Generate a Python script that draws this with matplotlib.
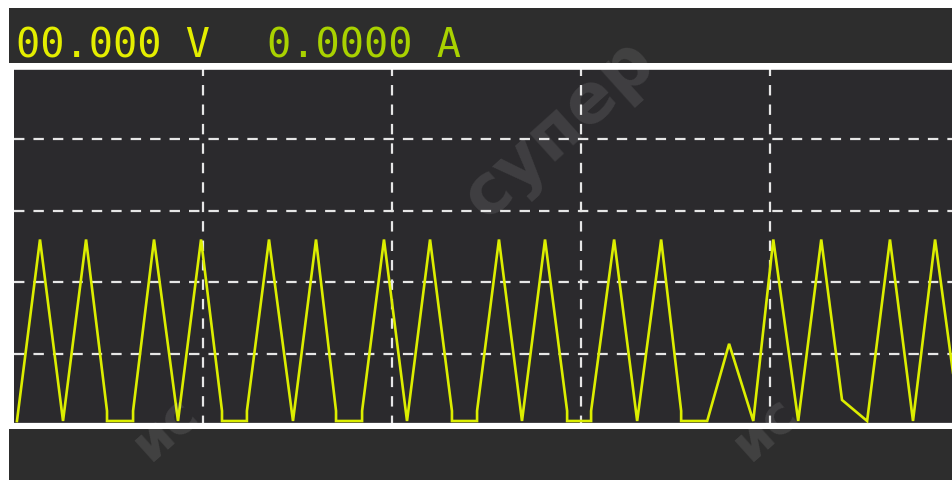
import matplotlib
matplotlib.use("Agg")
import matplotlib.pyplot as plt

# Waveform vertices: time in screen divisions, amplitude in vertical divisions
t_div = [0.013, 0.135, 0.257, 0.379, 0.490, 0.490, 0.628, 0.628, 0.739, 0.866,
         0.988, 1.099, 1.099, 1.231, 1.231, 1.348, 1.475, 1.597, 1.703, 1.703,
         1.841, 1.841, 1.957, 2.079, 2.201, 2.317, 2.317, 2.450, 2.450, 2.566,
         2.688, 2.810, 2.927, 2.927, 3.054, 3.054, 3.176, 3.298, 3.425, 3.531,
         3.531, 3.669, 3.785, 3.913, 4.019, 4.151, 4.273, 4.383, 4.516, 4.637,
         4.759, 4.876, 4.998]
v_div = [0.063, 2.598, 0.063, 2.598, 0.203, 0.063, 0.063, 0.203, 2.598, 0.063,
         2.598, 0.203, 0.063, 0.063, 0.203, 2.598, 0.063, 2.598, 0.203, 0.063,
         0.063, 0.203, 2.598, 0.063, 2.598, 0.203, 0.063, 0.063, 0.203, 2.598,
         0.063, 2.598, 0.203, 0.063, 0.063, 0.203, 2.598, 0.063, 2.598, 0.203,
         0.063, 0.063, 1.141, 0.063, 2.598, 0.063, 2.598, 0.357, 0.063, 2.598,
         0.063, 2.598, 0.203]

voltage_text = "00.000 V"
current_text = "0.0000 A"
grid_x = [1, 2, 3, 4]
grid_y = [1, 2, 3, 4]

W, H = 953, 481
plt.rcParams['lines.scale_dashes'] = False
fig = plt.figure(figsize=(W / 100, H / 100), dpi=100, facecolor="white")

def fx(px):
    return px / W

def fy(py):
    return 1 - py / H

bg = "#2b2a2d"

# top status bar
top = fig.add_axes([fx(9), fy(64), fx(944), 55 / H], facecolor="#2d2d2d")
top.set_xticks([]); top.set_yticks([])
for s in top.spines.values():
    s.set_visible(False)

fig.text(fx(16), fy(58), voltage_text, family="DejaVu Sans Mono", fontsize=29,
         color="#e4ee00", ha="left", va="baseline")
fig.text(fx(267), fy(58), current_text, family="DejaVu Sans Mono", fontsize=29,
         color="#a9d200", ha="left", va="baseline")

# main scope area
ax = fig.add_axes([fx(14.5), fy(426.5), fx(W - 14.5), (426.5 - 68.5) / H], facecolor=bg)
ax.set_xlim(0, (W - 14.5) / 188.8)
ax.set_ylim(0, 5)
ax.set_xticks([]); ax.set_yticks([])
for k in ["left", "right"]:
    ax.spines[k].set_visible(False)
ax.spines["top"].set_color("white")
ax.spines["top"].set_linewidth(2.6)
ax.spines["bottom"].set_color("white")
ax.spines["bottom"].set_linewidth(4.5)

for gx in grid_x:
    ax.axvline(gx, color="#e6e6e6", lw=1.6, dashes=(7.5, 6.5), zorder=1)
for gy in grid_y:
    ax.axhline(gy, color="#e6e6e6", lw=1.6, dashes=(7.5, 6.5), zorder=1)

ax.plot(t_div, v_div, color="#dcee00", lw=1.9, zorder=3, solid_joinstyle="miter")

# bottom bar
bot = fig.add_axes([fx(9), 0, fx(944), 51 / H], facecolor="#2d2d2d")
bot.set_xticks([]); bot.set_yticks([])
for s in bot.spines.values():
    s.set_visible(False)

# faint watermark (kept fully inside the picture)
fig.text(fx(560), fy(130), "супер", fontsize=50, fontweight="bold", color="white",
         alpha=0.10, rotation=42, ha="center", va="center", family="DejaVu Sans")
fig.text(fx(165), fy(428), "ис", fontsize=38, fontweight="bold", color="white",
         alpha=0.10, rotation=42, ha="center", va="center", family="DejaVu Sans")
fig.text(fx(765), fy(428), "ис", fontsize=38, fontweight="bold", color="white",
         alpha=0.10, rotation=42, ha="center", va="center", family="DejaVu Sans")

fig.savefig("out.png", dpi=100, facecolor="white")
